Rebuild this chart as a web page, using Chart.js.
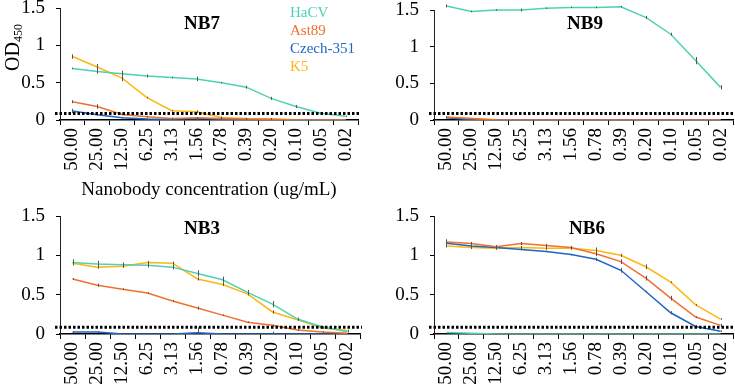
<!DOCTYPE html>
<html>
<head>
<meta charset="utf-8">
<script src="https://cdn.jsdelivr.net/npm/chart.js@4.4.0/dist/chart.umd.min.js"></script>
<style>
  html, body { margin: 0; padding: 0; background: #fff; }
  #wrap { position: relative; width: 735px; height: 390px; background: #fff; }
  canvas { position: absolute; left: 0; top: 0; }
</style>
</head>
<body>
<div id="wrap">
  <canvas id="c1" width="735" height="390"></canvas>
  <canvas id="c2" width="735" height="390"></canvas>
  <canvas id="c3" width="735" height="390"></canvas>
  <canvas id="c4" width="735" height="390"></canvas>
</div>
<script>
// ---------- DATA ----------
const categories = ['50.00','25.00','12.50','6.25','3.13','1.56','0.78','0.39','0.20','0.10','0.05','0.02'];
const seriesNames = ['HaCV','Ast89','Czech-351','K5'];
const panelTitles = ['NB7','NB9','NB3','NB6'];
const cutoff = 0.087;
const yTicks = [0, 0.5, 1, 1.5];
const yTickLabels = ['0', '0.5', '1', '1.5'];
const xTitle = 'Nanobody concentration (ug/mL)';

// NB7
const nb7_HaCV  = [0.69,0.65,0.62,0.59,0.57,0.55,0.50,0.44,0.29,0.18,0.09,0.05];
const nb7_Ast89 = [0.245,0.18,0.075,0.045,0.02,0.03,0.02,0.015,0.01,0,0,0];
const nb7_Czech = [0.12,0.07,0.03,0.015,0.01,0.02,0.01,0.005,0,0,0,0];
const nb7_K5    = [0.85,0.71,0.56,0.30,0.125,0.11,0.035,0.02,0.015,0.005,0,0];
const nb7_HaCV_err  = [0.01,0.03,0.04,0.02,0.01,0.03,0.01,0.02,0.02,0.02,0.01,0.01];
const nb7_Ast89_err = [0.02,0.03,0.01,0.01,0.01,0.01,0.01,0.01,0.01,0,0,0];
const nb7_Czech_err = [0.03,0.01,0.01,0.01,0.01,0.02,0.01,0.01,0,0,0,0];
const nb7_K5_err    = [0.03,0.04,0.04,0.01,0.01,0.02,0.01,0.01,0.01,0,0,0];

// NB9
const nb9_HaCV  = [1.555,1.48,1.50,1.50,1.525,1.535,1.535,1.545,1.40,1.17,0.81,0.445];
const nb9_Ast89 = [0.04,0.02,0,0,0,0,0,0,0,0,0,0];
const nb9_Czech = [0.03,0.005,0,0,0,0,0,0,0,0,0,0];
const nb9_K5    = [0.035,0.02,0.005,0,0,0,0,0,0,0,0,0];
const nb9_HaCV_err  = [0.02,0.01,0.01,0.02,0.01,0.01,0.01,0.01,0.02,0.02,0.05,0.03];
const nb9_Ast89_err = [0.01,0,0,0,0,0,0,0,0,0,0,0];
const nb9_Czech_err = [0.01,0,0,0,0,0,0,0,0,0,0,0];
const nb9_K5_err    = [0.01,0,0,0,0,0,0,0,0,0,0,0];

// NB3
const nb3_HaCV  = [0.91,0.89,0.88,0.875,0.85,0.77,0.69,0.53,0.38,0.19,0.09,0.03];
const nb3_Ast89 = [0.70,0.62,0.57,0.52,0.42,0.33,0.24,0.15,0.11,0.05,0.025,0.01];
const nb3_Czech = [0.025,0.025,0,0,0,0.015,0,0,0,0,0,0];
const nb3_K5    = [0.90,0.85,0.86,0.91,0.90,0.70,0.63,0.51,0.28,0.18,0.075,0.045];
const nb3_HaCV_err  = [0.04,0.04,0.03,0.03,0.03,0.04,0.04,0.03,0.04,0.02,0.01,0.01];
const nb3_Ast89_err = [0.01,0.02,0.01,0.01,0.01,0.02,0.01,0.01,0.01,0.01,0.01,0];
const nb3_Czech_err = [0.01,0.01,0,0,0,0.07,0,0.01,0.03,0,0,0];
const nb3_K5_err    = [0.02,0.02,0.02,0.02,0.02,0.02,0.02,0.02,0.02,0.01,0.01,0.01];

// NB6
const nb6_HaCV  = [0.02,0.01,0,0,0,0,0,0,0,0,0,0];
const nb6_Ast89 = [1.17,1.15,1.11,1.15,1.125,1.10,1.02,0.92,0.71,0.455,0.215,0.11];
const nb6_Czech = [1.155,1.12,1.10,1.075,1.05,1.01,0.95,0.81,0.54,0.27,0.095,0.035];
const nb6_K5    = [1.12,1.10,1.09,1.10,1.09,1.09,1.06,1.00,0.855,0.66,0.37,0.19];
const nb6_HaCV_err  = [0,0,0,0,0,0,0,0,0,0,0,0];
const nb6_Ast89_err = [0.02,0.02,0.02,0.02,0.02,0.02,0.03,0.03,0.03,0.03,0.01,0.02];
const nb6_Czech_err = [0.05,0.02,0.02,0.01,0.01,0.01,0.02,0.03,0.01,0.02,0.02,0.01];
const nb6_K5_err    = [0.02,0.02,0.02,0.02,0.02,0.02,0.04,0.02,0.03,0.01,0.01,0.01];

// ---------- STYLE ----------
const colors = ['#4FD1B5', '#F0702F', '#1C66C4', '#FFB60F'];
const SERIF = "'Liberation Serif', 'Times New Roman', serif";

const titlePlugin = {
  id: 'panelTitle',
  afterDraw(chart, args, opts) {
    const ctx = chart.ctx;
    ctx.save();
    ctx.font = 'bold 19px ' + SERIF;
    ctx.fillStyle = '#000';
    ctx.textAlign = 'center';
    ctx.textBaseline = 'middle';
    ctx.fillText(opts.text, opts.x, opts.y);
    ctx.restore();
  }
};

const extrasPlugin = {
  id: 'extras',
  afterDatasetsDraw(chart, args, opts) {
    const ctx = chart.ctx;
    const xs = chart.scales.x, ys = chart.scales.y;
    const area = chart.chartArea;
    ctx.save();
    // error bars
    ctx.strokeStyle = '#555';
    ctx.lineWidth = 1;
    (opts.errors || []).forEach((errArr, di) => {
      const ds = chart.data.datasets[di];
      errArr.forEach((e, i) => {
        if (!e) return;
        const x = xs.getPixelForValue(i);
        const v = ds.data[i];
        const y1 = Math.min(ys.getPixelForValue(v - e), area.bottom);
        const y2 = ys.getPixelForValue(v + e);
        ctx.beginPath();
        ctx.moveTo(Math.round(x) + 0.5, y1);
        ctx.lineTo(Math.round(x) + 0.5, y2);
        ctx.stroke();
      });
    });
    // cutoff dotted line
    const yc = ys.getPixelForValue(opts.cutoff);
    ctx.strokeStyle = '#000';
    ctx.lineWidth = 3;
    ctx.setLineDash([2.5, 2]);
    ctx.beginPath();
    ctx.moveTo(area.left - 5, yc);
    ctx.lineTo(area.right + 2, yc);
    ctx.stroke();
    ctx.setLineDash([]);
    // legend (only where asked)
    if (opts.legend) {
      ctx.font = '15px ' + SERIF;
      ctx.textAlign = 'left';
      ctx.textBaseline = 'middle';
      chart.data.datasets.forEach((ds, i) => {
        ctx.fillStyle = ds.borderColor;
        ctx.fillText(ds.label, opts.legend.x, opts.legend.y + i * opts.legend.dy);
      });
    }
    // y axis title with subscript
    if (opts.yTitle) {
      ctx.fillStyle = '#000';
      ctx.translate(opts.yTitle.x, opts.yTitle.y);
      ctx.rotate(-Math.PI / 2);
      ctx.textAlign = 'left';
      ctx.textBaseline = 'alphabetic';
      ctx.font = '20px ' + SERIF;
      ctx.fillText('OD', 0, 0);
      const w = ctx.measureText('OD').width;
      ctx.font = '12px ' + SERIF;
      ctx.fillText('450', w, 3);
    }
    ctx.restore();
  }
};

function makePanel(id, area, title, titlePos, vals, errs, extra) {
  const xH = extra.xH;
  const datasets = vals.map((d, i) => ({
    label: seriesNames[i],
    data: d,
    borderColor: colors[i],
    backgroundColor: colors[i],
    borderWidth: 1.5,
    pointRadius: 0,
    tension: 0,
    fill: false,
    clip: { left: 0, right: 0, top: 8, bottom: 0 }
  }));
  return new Chart(document.getElementById(id), {
    type: 'line',
    data: { labels: categories, datasets },
    plugins: [titlePlugin, extrasPlugin],
    options: {
      responsive: false,
      animation: false,
      devicePixelRatio: 1,
      layout: { padding: { left: 0, top: area.top, right: 735 - area.right, bottom: 390 - area.bottom - xH } },
      plugins: {
        legend: { display: false },
        tooltip: { enabled: false },
        panelTitle: { text: title, x: titlePos[0], y: titlePos[1] },
        extras: { errors: errs, cutoff: cutoff, legend: extra.legend, yTitle: extra.yTitle }
      },
      scales: {
        x: {
          type: 'category',
          offset: true,
          grid: { display: true, offset: true, drawOnChartArea: false, drawTicks: true, tickLength: 5, color: '#000', lineWidth: 1 },
          border: { display: true, color: '#000', width: 1.5 },
          ticks: { minRotation: 90, maxRotation: 90, autoSkip: false, color: '#000', padding: 3, font: { family: SERIF, size: 19 } },
          title: extra.xTitle ? { display: true, text: xTitle, color: '#000', font: { family: SERIF, size: 19 }, padding: { top: 0, bottom: 4 } } : { display: false },
          afterFit(s) { s.height = xH; s.paddingLeft = 0; s.paddingRight = 0; }
        },
        y: {
          min: 0, max: 1.5,
          afterBuildTicks(s) { s.ticks = yTicks.map(v => ({ value: v })); },
          grid: { display: true, drawOnChartArea: false, drawTicks: true, tickLength: 4, color: '#000' },
          border: { display: true, color: '#222', width: 1 },
          ticks: {
            color: '#000', padding: 11, font: { family: SERIF, size: 19 },
            callback(v) { const k = yTicks.indexOf(v); return k >= 0 ? yTickLabels[k] : String(v); }
          },
          afterFit(s) { s.width = area.left; s.paddingTop = 0; s.paddingBottom = 0; }
        }
      }
    }
  });
}

makePanel('c1', { left: 60, right: 358, top: 8, bottom: 120 }, panelTitles[0], [202, 24],
  [nb7_HaCV, nb7_Ast89, nb7_Czech, nb7_K5],
  [nb7_HaCV_err, nb7_Ast89_err, nb7_Czech_err, nb7_K5_err],
  { xH: 85.4, xTitle: true, legend: { x: 290, y: 13, dy: 18 }, yTitle: { x: 19, y: 71 } });

makePanel('c2', { left: 434, right: 733, top: 10, bottom: 120 }, panelTitles[1], [585, 24],
  [nb9_HaCV, nb9_Ast89, nb9_Czech, nb9_K5],
  [nb9_HaCV_err, nb9_Ast89_err, nb9_Czech_err, nb9_K5_err],
  { xH: 60 });

makePanel('c3', { left: 60, right: 360, top: 216, bottom: 334 }, panelTitles[2], [202, 229],
  [nb3_HaCV, nb3_Ast89, nb3_Czech, nb3_K5],
  [nb3_HaCV_err, nb3_Ast89_err, nb3_Czech_err, nb3_K5_err],
  { xH: 56 });

makePanel('c4', { left: 434, right: 733, top: 216, bottom: 334 }, panelTitles[3], [587, 229],
  [nb6_HaCV, nb6_Ast89, nb6_Czech, nb6_K5],
  [nb6_HaCV_err, nb6_Ast89_err, nb6_Czech_err, nb6_K5_err],
  { xH: 56 });
</script>
</body>
</html>
